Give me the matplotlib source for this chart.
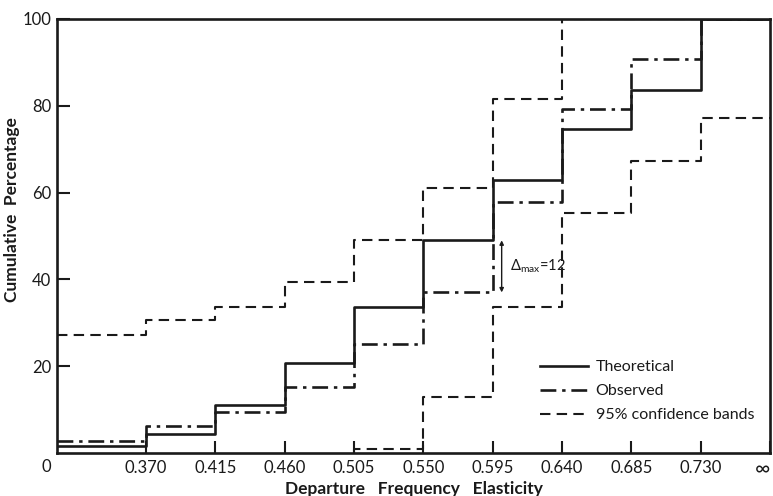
import numpy as np
import matplotlib.pyplot as plt

plt.rcParams['font.family'] = ['Lato', 'DejaVu Sans']
plt.rcParams['mathtext.fontset'] = 'custom'
plt.rcParams['mathtext.rm'] = 'Lato'
plt.rcParams['mathtext.it'] = 'Lato'

# class boundaries (departure frequency elasticity)
tick_labels = ["0.370", "0.415", "0.460", "0.505", "0.550",
               "0.595", "0.640", "0.685", "0.730", "\u221e"]

# cumulative percentage over each class interval
theoretical = [1.5, 4.3, 11.0, 20.8, 33.7, 49.0, 62.9, 74.6, 83.6, 100.0]
observed = [2.8, 6.3, 9.5, 15.3, 25.0, 37.0, 57.8, 79.3, 90.7, 100.0]
upper_band = [27.3, 30.6, 33.6, 39.3, 49.1, 61.1, 81.6, 100.0, 100.0, 100.0]
lower_band = [1.0, 12.8, 33.7, 55.4, 67.3, 77.1]  # starts at 0.505

delta_max = 12

# first interval (0 to 0.370) is drawn wider than the rest
x_pos = np.array([0.0] + [1.284 + i for i in range(10)])

fig = plt.figure(figsize=(7.73, 4.96), dpi=100)
ax = fig.add_axes([0.0737, 0.0867, 0.9224, 0.875])

lw = 1.9
col = '#1a1a1a'

def steps(vals, start=0):
    x = x_pos[start:start + len(vals) + 1]
    y = list(vals) + [vals[-1]]
    return x, y

x, y = steps(theoretical)
ax.step(x, y, where='post', color=col, lw=lw, label='Theoretical')
x, y = steps(observed)
ax.step(x, y, where='post', color=col, lw=lw, dashes=(6, 2.2, 1.3, 2.2),
        label='Observed')
x, y = steps(upper_band)
ax.step(x, y, where='post', color=col, lw=1.5, dashes=(5, 3),
        label='95% confidence bands')
x, y = steps(lower_band, start=4)
ax.step(np.r_[x[0], x], [0] + y, where='post', color=col, lw=1.5, dashes=(5, 3))

# maximum deviation between theoretical and observed
xa = x_pos[6] + 0.13
ax.annotate('', xy=(xa, observed[5] + delta_max), xytext=(xa, observed[5]),
            arrowprops=dict(arrowstyle='<|-|>', color=col, lw=1.0,
                            mutation_scale=6, shrinkA=0, shrinkB=0))
ax.text(xa + 0.12, 43, r"$\Delta_{\mathrm{max}}$=12", fontsize=10.5,
        color=col, ha='left', va='center')

ax.set_xlim(0, x_pos[-1])
ax.set_ylim(0, 100)
ax.set_xticks(x_pos[1:])
ax.set_xticklabels(tick_labels, fontsize=12)
ax.get_xticklabels()[-1].set_horizontalalignment('right')
ax.get_xticklabels()[-1].set_fontsize(15)
ax.set_yticks([20, 40, 60, 80, 100])
ax.set_yticklabels(['20', '40', '60', '80', '100'], fontsize=12)
ax.tick_params(direction='in', length=9, width=1.5, colors=col)
ax.tick_params(axis='x', pad=5)
ax.tick_params(axis='y', pad=4)
ax.text(-0.15, -3.2, '0', fontsize=12, color=col, ha='center', va='center')

for s in ax.spines.values():
    s.set_linewidth(1.9)
    s.set_color(col)

ax.set_ylabel('Cumulative  Percentage', fontsize=12.5, fontweight='bold',
              color=col)
ax.yaxis.set_label_coords(-0.052, 0.56)
ax.set_xlabel('Departure   Frequency   Elasticity', fontsize=12.5,
              fontweight='bold', color=col, labelpad=1)

leg = ax.legend(loc='upper left', bbox_to_anchor=(0.677, 0.214),
                frameon=False, fontsize=11.5, handlelength=3.0,
                handletextpad=0.5, labelspacing=0.62,
                borderpad=0, borderaxespad=0)
for t in leg.get_texts():
    t.set_color(col)

fig.savefig('out.png', dpi=100, facecolor='white')
